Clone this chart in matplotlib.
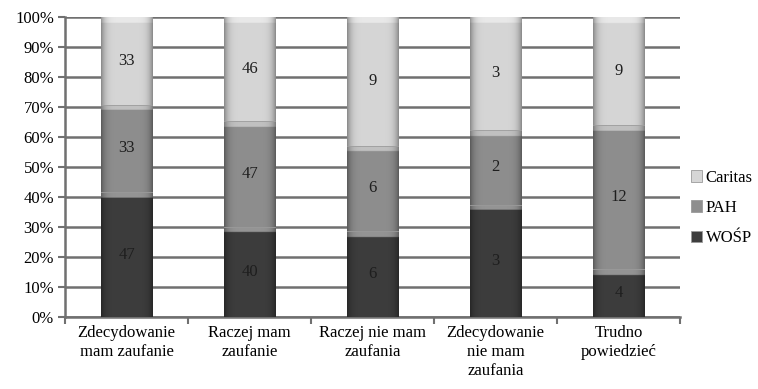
import numpy as np
import matplotlib
matplotlib.use("Agg")
import matplotlib.pyplot as plt
from matplotlib.colors import to_rgb

plt.rcParams['font.family'] = ['Liberation Serif', 'DejaVu Serif']

categories = ["Zdecydowanie\nmam zaufanie", "Raczej mam\nzaufanie", "Raczej nie mam\nzaufania",
              "Zdecydowanie\nnie mam\nzaufania", "Trudno\npowiedzieć"]
series_names = ["WOŚP", "PAH", "Caritas"]
wosp = [47, 40, 6, 3, 4]
pah = [33, 47, 6, 2, 12]
caritas = [33, 46, 9, 3, 9]
colors = ["#3d3d3d", "#8e8e8e", "#d6d6d6"]

data = np.array([wosp, pah, caritas], dtype=float)
pct = data / data.sum(axis=0) * 100

fig = plt.figure(figsize=(7.58, 3.89), dpi=100)
ax = fig.add_axes([0.086, 0.185, 0.811, 0.771])

x = np.arange(len(categories))
bottom = np.zeros(len(categories))
width = 0.42
fs = 12


def shade(patch, base, seg_h):
    # cylinder-like horizontal shading plus a light bevel at the top of the segment
    r, g, b = to_rgb(base)
    nx, ny = 60, 200
    u = np.linspace(-1, 1, nx)
    side = 1 - 0.35 * np.abs(u) ** 6
    img = np.ones((ny, nx, 3))
    for i, c in enumerate((r, g, b)):
        img[:, :, i] = np.clip(c * side, 0, 1)
    bev = min(0.9, 2.0 / max(seg_h, 0.1))
    nb = max(1, int(ny * bev))
    for i, c in enumerate((r, g, b)):
        img[:nb, :, i] = np.clip(c + (1 - c) * 0.45, 0, 1) * side
    bb = patch.get_bbox()
    im = ax.imshow(img, extent=[bb.x0, bb.x1, bb.y0, bb.y1], aspect='auto',
                   origin='upper', zorder=3, interpolation='bilinear')
    im.set_clip_path(patch)


for vals, raw, name, col in zip(pct, data, series_names, colors):
    bars = ax.bar(x, vals, width, bottom=bottom, color=col, label=name, zorder=3,
                  edgecolor='#9a9a9a', linewidth=0.6)
    for p, v in zip(bars, vals):
        shade(p, col, v)
    for xi, b, v, r in zip(x, bottom, vals, raw):
        ax.text(xi, b + v / 2, f"{int(r)}", ha='center', va='center', fontsize=fs,
                color='#1e1e1e', zorder=5)
    bottom += vals

ax.set_ylim(0, 100)
ax.set_xlim(-0.5, len(categories) - 0.5)
ax.set_yticks(np.arange(0, 101, 10))
ax.set_yticklabels([f"{v}%" for v in range(0, 101, 10)])
ax.set_xticks(x)
ax.set_xticklabels(categories, fontsize=fs, va='top', linespacing=1.22)
ax.set_xticks(np.arange(-0.5, len(categories), 1), minor=True)
ax.tick_params(axis='x', which='major', length=0, pad=6)
ax.tick_params(axis='x', which='minor', length=5, width=1.5, color='#707070')
ax.tick_params(axis='y', length=5, width=1.5, color='#707070', labelsize=fs, pad=3)
ax.yaxis.grid(True, color='#707070', linewidth=1.8, zorder=0)
ax.set_axisbelow(True)
for s in ['top', 'right']:
    ax.spines[s].set_visible(False)
for s in ['left', 'bottom']:
    ax.spines[s].set_color('#707070')
    ax.spines[s].set_linewidth(1.8)

h, l = ax.get_legend_handles_labels()
fig.legend(h[::-1], l[::-1], loc='center left', bbox_to_anchor=(0.9, 0.465), frameon=False,
           fontsize=fs, handlelength=0.7, handleheight=0.7, handletextpad=0.2,
           labelspacing=0.85, borderaxespad=0.1)

fig.savefig("out.png", dpi=100)
